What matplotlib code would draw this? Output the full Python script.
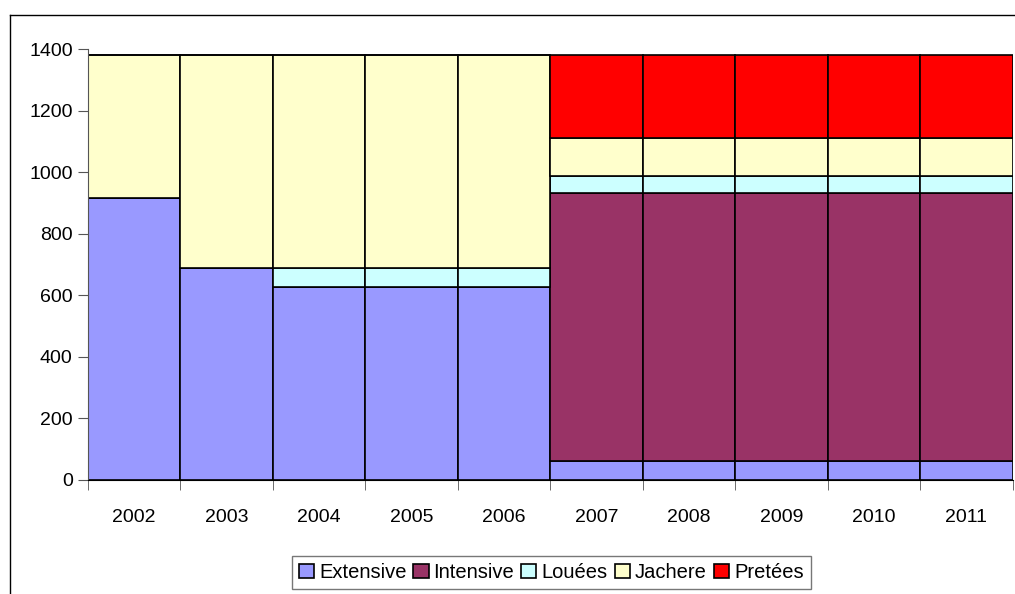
import numpy as np
import matplotlib.pyplot as plt
from matplotlib.lines import Line2D

plt.rcParams['font.family'] = ['Liberation Sans', 'DejaVu Sans']

years = ['2002', '2003', '2004', '2005', '2006', '2007', '2008', '2009', '2010', '2011']
extensive = [915, 690, 627, 627, 627, 62, 62, 62, 62, 62]
intensive = [0, 0, 0, 0, 0, 869, 869, 869, 869, 869]
louees = [0, 0, 62, 62, 62, 57, 57, 57, 57, 57]
jachere = [465, 690, 691, 691, 691, 124, 124, 124, 124, 124]
pretees = [0, 0, 0, 0, 0, 268, 268, 268, 268, 268]

series = [('Extensive', extensive, '#9999ff'),
          ('Intensive', intensive, '#993366'),
          ('Louées', louees, '#ccffff'),
          ('Jachere', jachere, '#ffffcc'),
          ('Pretées', pretees, '#ff0000')]

fig = plt.figure(figsize=(10.15, 5.94), dpi=100)
# outer chart frame (top and left edges visible)
fig.add_artist(Line2D([0.0099, 0.0099], [0, 0.975], color='black', lw=1))
fig.add_artist(Line2D([0.0099, 1.0], [0.975, 0.975], color='black', lw=1))

ax = fig.add_axes([0.0867, 0.192, 0.911, 0.7255])
x = np.arange(len(years))
bottom = np.zeros(len(years))
for name, vals, col in series:
    vals = np.array(vals, dtype=float)
    ax.bar(x, vals, bottom=bottom, width=1.0, color=col, edgecolor='black',
           linewidth=1.2, label=name)
    bottom += vals

ax.set_xlim(-0.5, len(years) - 0.5)
ax.set_ylim(0, 1400)
ax.set_yticks(range(0, 1401, 200))
ax.set_xticks(x)
ax.set_xticklabels(years)
ax.set_xticks(np.arange(-0.5, len(years), 1.0), minor=True)
ax.tick_params(axis='x', which='major', length=0, pad=21, labelsize=14)
ax.tick_params(axis='x', which='minor', length=7, color='#555555')
ax.tick_params(axis='y', length=7, color='#555555', labelsize=14, pad=4)
ax.spines['top'].set_visible(False)
ax.spines['right'].set_visible(False)
ax.spines['left'].set_color('#555555')
ax.spines['bottom'].set_color('black')

leg = fig.legend(loc='center', bbox_to_anchor=(0.543, 0.036), ncol=5,
                 fontsize=14.5, frameon=True, fancybox=False, edgecolor='#555555',
                 handlelength=0.75, handleheight=0.75, handletextpad=0.25,
                 columnspacing=0.35, borderpad=0.35)
leg.get_frame().set_linewidth(1)

fig.savefig('out.png', dpi=100)
